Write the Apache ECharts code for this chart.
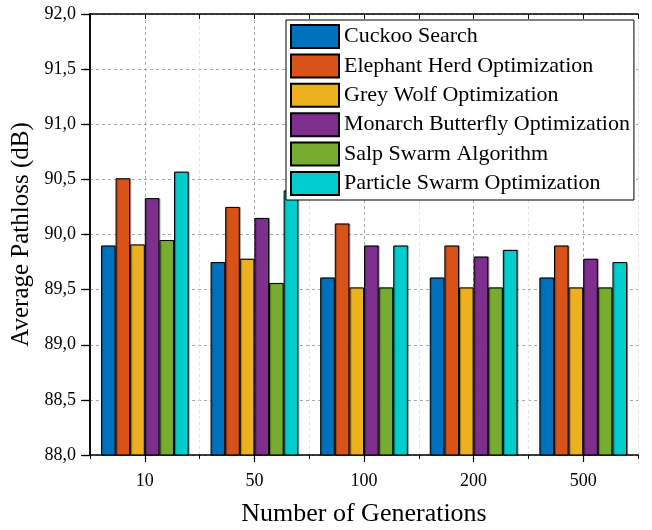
<!DOCTYPE html>
<html>
<head>
<meta charset="utf-8">
<script src="https://cdn.jsdelivr.net/npm/echarts@6/dist/echarts.min.js"></script>
<style>
  html, body { margin: 0; padding: 0; background: #fff; }
  #chart { width: 652px; height: 530px; }
</style>
</head>
<body>
<div id="chart"></div>
<script>
// Average pathloss per algorithm versus number of generations
const generations = ['10', '50', '100', '200', '500'];

const cuckooSearch    = [89.90, 89.75, 89.61, 89.61, 89.61];
const elephantHerd    = [90.51, 90.25, 90.10, 89.90, 89.90];
const greyWolf        = [89.91, 89.78, 89.52, 89.52, 89.52];
const monarchButterfly= [90.33, 90.15, 89.90, 89.80, 89.78];
const salpSwarm       = [89.95, 89.56, 89.52, 89.52, 89.52];
const particleSwarm   = [90.57, 90.40, 89.90, 89.86, 89.75];

const seriesNames = [
  'Cuckoo Search',
  'Elephant Herd Optimization',
  'Grey Wolf Optimization',
  'Monarch Butterfly Optimization',
  'Salp Swarm Algorithm',
  'Particle Swarm Optimization'
];
const seriesValues = [cuckooSearch, elephantHerd, greyWolf, monarchButterfly, salpSwarm, particleSwarm];
const seriesColors = ['#0072BD', '#D95319', '#EDB120', '#7E2F8E', '#77AC30', '#00CDCD'];

const yMin = 88, yMax = 92, yStep = 0.5;
const FONT = "'Liberation Serif', 'Times New Roman', serif";

const chart = echarts.init(document.getElementById('chart'));

const halfSteps = generations.length * 2; // positions at category edges and centres

const option = {
  backgroundColor: '#fff',
  animation: false,
  textStyle: { fontFamily: FONT, color: '#000' },
  grid: { left: 90, right: 14, top: 14, bottom: 75, containLabel: false, outerBoundsMode: 'none' },
  legend: {
    orient: 'vertical',
    left: 286,
    top: 20,
    padding: [4, 4, 4, 4],
    itemWidth: 48,
    itemHeight: 23,
    itemGap: 4.4,
    icon: 'rect',
    backgroundColor: '#fff',
    borderColor: '#000',
    borderWidth: 1,
    selectedMode: false,
    textStyle: { fontFamily: FONT, fontSize: 22, color: '#000' },
    data: seriesNames
  },
  xAxis: [
    {
      type: 'category',
      data: generations,
      position: 'bottom',
      axisLine: { show: true, lineStyle: { color: '#000', width: 1.5 } },
      axisTick: { show: true, alignWithLabel: true, inside: false, length: 7, lineStyle: { color: '#000', width: 1.2 } },
      axisLabel: { fontFamily: FONT, fontSize: 18, color: '#000', margin: 17 },
      splitLine: { show: false },
      name: 'Number of Generations',
      nameLocation: 'middle',
      nameGap: 46,
      nameTextStyle: { fontFamily: FONT, fontSize: 26, color: '#000' }
    },
    {
      // short ticks at category edges; vertical grid at edges (faint) and centres
      type: 'value',
      min: 0,
      max: halfSteps,
      interval: 1,
      position: 'bottom',
      axisLine: { show: false },
      axisTick: { show: true, inside: false, length: 4, lineStyle: { color: '#000', width: 1 } },
      axisLabel: { show: false },
      splitLine: { show: true, lineStyle: { color: ['#e2e2e2', '#a8a8a8'], type: [3, 3], width: 1 } }
    },
    {
      type: 'value',
      min: 0,
      max: halfSteps,
      interval: 1,
      position: 'top',
      axisLine: { show: true, lineStyle: { color: '#000', width: 1.5 } },
      axisTick: { show: true, inside: true, length: 5, lineStyle: { color: '#000', width: 1 } },
      axisLabel: { show: false },
      splitLine: { show: false }
    }
  ],
  yAxis: [
    {
      type: 'value',
      min: yMin,
      max: yMax,
      interval: yStep,
      position: 'left',
      axisLine: { show: true, lineStyle: { color: '#000', width: 1.5 } },
      axisTick: { show: true, inside: false, length: 9, lineStyle: { color: '#000', width: 1.2 } },
      axisLabel: {
        fontFamily: FONT, fontSize: 18, color: '#000', margin: 14,
        formatter: v => v.toFixed(1).replace('.', ',')
      },
      splitLine: { show: true, lineStyle: { color: '#a8a8a8', type: [3, 3], width: 1 } },
      name: 'Average Pathloss (dB)',
      nameLocation: 'middle',
      nameGap: 45,
      nameTextStyle: { fontFamily: FONT, fontSize: 25, color: '#000' }
    },
    {
      type: 'value',
      min: yMin,
      max: yMax,
      interval: yStep,
      position: 'right',
      axisLine: { show: true, lineStyle: { color: '#000', width: 1.5 } },
      axisTick: { show: true, inside: true, length: 7, lineStyle: { color: '#000', width: 1.2 } },
      axisLabel: { show: false },
      splitLine: { show: false }
    }
  ],
  series: seriesNames.map((name, i) => ({
    name: name,
    type: 'bar',
    xAxisIndex: 0,
    yAxisIndex: 0,
    data: seriesValues[i],
    barGap: '0%',
    barCategoryGap: '20%',
    itemStyle: {
      color: seriesColors[i],
      borderColor: '#000',
      borderWidth: 1,
      borderRadius: 0,
      shadowColor: 'rgba(0,0,0,0.35)',
      shadowOffsetX: 1,
      shadowOffsetY: 0,
      shadowBlur: 1
    }
  }))
};

chart.setOption(option);
</script>
</body>
</html>
